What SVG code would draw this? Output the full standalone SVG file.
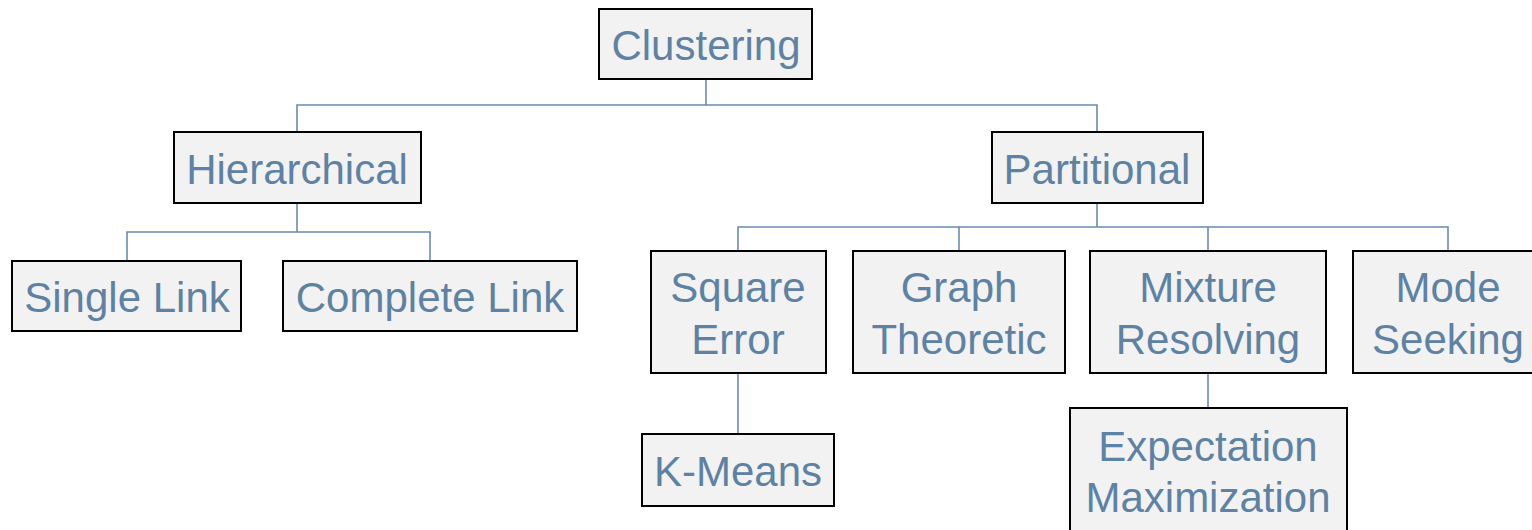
<svg xmlns="http://www.w3.org/2000/svg" width="1532" height="530" viewBox="0 0 1532 530">
  <style>
    .box { fill: #f2f2f2; stroke: #000; stroke-width: 2; }
    .lbl { font-family: "Liberation Sans", Arial, sans-serif; font-size: 42px; fill: #5e82a3; text-anchor: middle; }
    .wire { fill: none; stroke: #6a8cad; stroke-width: 1.6; }
  </style>
  <rect width="1532" height="530" fill="#fff"/>

  <g id="connectors">
    <path class="wire" d="M706 79 V105 M297 132 V105 H1097 V132"/>
    <path class="wire" d="M297 203 V232 M127 261 V232 H430 V261"/>
    <path class="wire" d="M1097 203 V227 M738 251 V227 H1448 V251 M959 227 V251 M1208 227 V251"/>
    <path class="wire" d="M738 373 V434"/>
    <path class="wire" d="M1208 373 V408"/>
  </g>

  <g id="clustering">
    <rect class="box" x="599" y="9" width="213" height="70"/>
    <text class="lbl" x="706" y="60">Clustering</text>
  </g>
  <g id="hierarchical">
    <rect class="box" x="174" y="132" width="247" height="71"/>
    <text class="lbl" x="297" y="184">Hierarchical</text>
  </g>
  <g id="partitional">
    <rect class="box" x="992" y="132" width="211" height="71"/>
    <text class="lbl" x="1097" y="184">Partitional</text>
  </g>
  <g id="single-link">
    <rect class="box" x="12" y="261" width="229" height="70"/>
    <text class="lbl" x="127" y="312">Single Link</text>
  </g>
  <g id="complete-link">
    <rect class="box" x="283" y="261" width="294" height="70"/>
    <text class="lbl" x="430" y="312">Complete Link</text>
  </g>
  <g id="square-error">
    <rect class="box" x="651" y="251" width="175" height="122"/>
    <text class="lbl" x="738" y="302">Square</text>
    <text class="lbl" x="738" y="354">Error</text>
  </g>
  <g id="graph-theoretic">
    <rect class="box" x="853" y="251" width="212" height="122"/>
    <text class="lbl" x="959" y="302">Graph</text>
    <text class="lbl" x="959" y="354">Theoretic</text>
  </g>
  <g id="mixture-resolving">
    <rect class="box" x="1090" y="251" width="236" height="122"/>
    <text class="lbl" x="1208" y="302">Mixture</text>
    <text class="lbl" x="1208" y="354">Resolving</text>
  </g>
  <g id="mode-seeking">
    <rect class="box" x="1353" y="251" width="190" height="122"/>
    <text class="lbl" x="1448" y="302">Mode</text>
    <text class="lbl" x="1448" y="354">Seeking</text>
  </g>
  <g id="k-means">
    <rect class="box" x="642" y="434" width="192" height="72"/>
    <text class="lbl" x="738" y="486">K-Means</text>
  </g>
  <g id="expectation-maximization">
    <rect class="box" x="1070" y="408" width="277" height="140"/>
    <text class="lbl" x="1208" y="461">Expectation</text>
    <text class="lbl" x="1208" y="512">Maximization</text>
  </g>
</svg>
